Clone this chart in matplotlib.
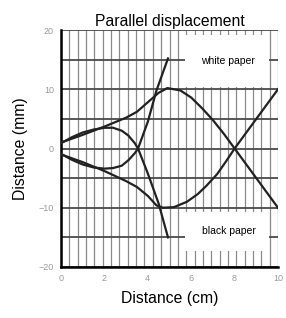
import matplotlib.pyplot as plt
import numpy as np
from matplotlib.patches import Rectangle

plt.rcParams['font.family'] = ['Liberation Sans', 'DejaVu Sans']

# outer envelope, upper branch (white paper side)
xUpper = [0, 1, 2, 3, 3.5, 4, 4.5, 4.9, 5.5, 6, 6.5, 7, 7.5, 8, 8.5, 9, 9.5, 10]
yUpper = [1, 2.3, 3.7, 5.2, 6.2, 7.8, 9.4, 10.2, 9.8, 8.6, 6.8, 4.8, 2.5, 0, -2.5, -5, -7.5, -10]

# outer envelope, lower branch (black paper side)
xLower = [0, 1, 2, 3, 3.5, 4, 4.4, 4.7, 5.2, 5.8, 6.3, 6.7, 7.2, 7.6, 8, 8.5, 9, 9.5, 10]
yLower = [-1, -2.3, -3.8, -5.5, -6.5, -8, -9.6, -10, -9.9, -9, -7.7, -6.3, -4.3, -2.2, 0, 2.5, 5, 7.5, 10]

# inner arcs that cross near 3.5 cm and run off steeply
xArcA = [0, 0.5, 1, 1.5, 2, 2.4, 2.8, 3.1, 3.4, 3.55, 4, 4.5, 4.93]
yArcA = [0.9, 1.9, 2.7, 3.2, 3.5, 3.5, 3.0, 2.2, 0.9, 0, -4.2, -9.3, -15]

xArcB = [0, 0.5, 1, 1.5, 2, 2.4, 2.8, 3.1, 3.4, 3.55, 4, 4.4, 4.93]
yArcB = [-0.9, -1.9, -2.7, -3.2, -3.4, -3.3, -2.9, -2.0, -0.8, 0, 4.5, 9.8, 15.2]

xTicks = [0, 2, 4, 6, 8, 10]
yTicks = [-20, -10, 0, 10, 20]

fig = plt.figure(figsize=(2.86, 3.18), dpi=100)
ax = fig.add_axes([61/286, 1 - 267/318, 217/286, 237/318])

#grid drawn like graph paper
for gx in np.linspace(0, 10, 27):
    ax.axvline(gx, color="#8a8a8a", linewidth=0.9, zorder=1)
for gy in range(-20, 21, 5):
    ax.axhline(gy, color="#4a4a4a", linewidth=1.3, zorder=1)

#white boxes with the labels
ax.add_patch(Rectangle((5.7, 10.4), 3.9, 8.8, facecolor="white", edgecolor="none", zorder=2))
ax.add_patch(Rectangle((5.7, -17.3), 3.9, 6.5, facecolor="white", edgecolor="none", zorder=2))
ax.text(7.7, 14.7, "white paper", fontsize=7.5, ha="center", va="center", zorder=3)
ax.text(7.75, -13.9, "black paper", fontsize=7.5, ha="center", va="center", zorder=3)

for xs, ys in [(xUpper, yUpper), (xLower, yLower), (xArcA, yArcA), (xArcB, yArcB)]:
    ax.plot(xs, ys, color="#222222", linewidth=1.6, zorder=4)

ax.set_xlim(0, 10)
ax.set_ylim(-20, 20)
ax.set_xticks(xTicks)
ax.set_yticks(yTicks)
ax.tick_params(length=0, labelsize=6.5, labelcolor="#999999", pad=5)
for side in ["top", "right"]:
    ax.spines[side].set_visible(False)
ax.spines["left"].set_linewidth(1.8)
ax.spines["bottom"].set_linewidth(1.8)

ax.set_title("Parallel displacement", fontsize=11.3, pad=3)
ax.set_xlabel("Distance (cm)", fontsize=11.3, labelpad=6)
ax.set_ylabel("Distance (mm)", fontsize=11.3, labelpad=8)

plt.savefig("out.png", dpi=100)
